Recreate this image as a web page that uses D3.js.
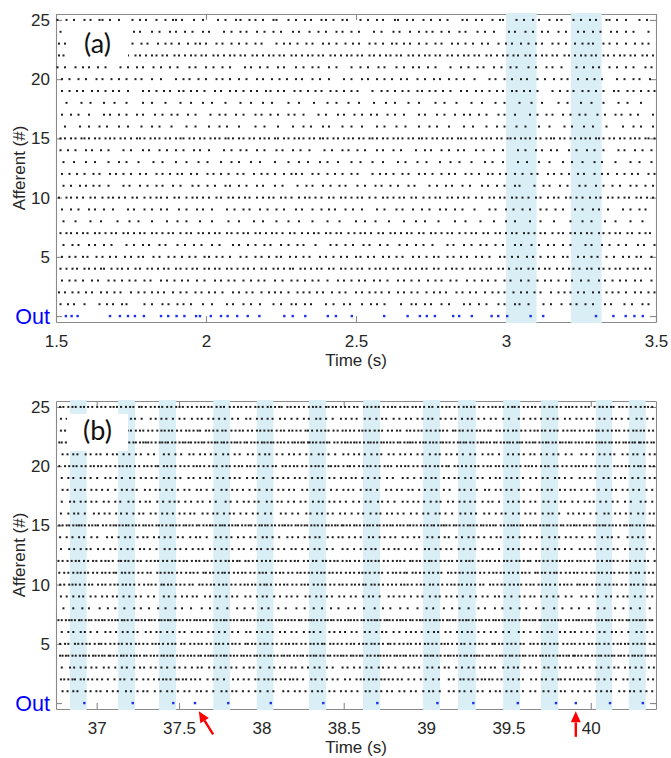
<!DOCTYPE html>
<html>
<head>
<meta charset="utf-8">
<script src="https://cdn.jsdelivr.net/npm/d3@7"></script>
<style>
  body { margin: 0; background: #fff; }
  svg { display: block; }
</style>
</head>
<body>
<div id="chart"></div>
<script>
// each afferent row is a string of gaps between spikes, one base-36 char per gap, in 5 ms steps
var step = 0.005;

var yTicks = [0, 5, 10, 15, 20, 25];
var yTickLabels = ['Out', '5', '10', '15', '20', '25'];

// ---- panel (a)
var xDomainA = [1.5, 3.5];
var xTicksA = [1.5, 2, 2.5, 3, 3.5];
var shadeA = [[3.0, 3.102], [3.217, 3.319]];
var outA = [1.533, 1.552, 1.572, 1.68, 1.713, 1.74, 1.763, 1.793, 1.85, 1.874, 1.902, 1.928, 1.967, 1.98,
  2.016, 2.05, 2.072, 2.104, 2.139, 2.178, 2.261, 2.289, 2.331, 2.406, 2.433, 2.486, 2.594, 2.672, 2.713,
  2.736, 2.763, 2.824, 2.844, 2.886, 2.952, 2.974, 3.004, 3.082, 3.124, 3.3, 3.358, 3.399, 3.428, 3.456];
var afferentA = [
  "3547a5463c57464586a4756957364a5748645b736475a46584736a576465849574636a574657485a6475",
  "2454546454754544654645457454654456445465474544564546544745465446545475445464544564547544654546",
  "4545647455464745546574546554756455467455464574556546475545647565455465745546475546556474556",
  "3443534425434535344353443534353443453534425344353534435434535344353543453443534535344354434535344354353445343534453543434",
  "4545364546453746455463545746455364547455463546454745536454645735464554637454656453746454655463745465546545",
  "5647465a5647485657594656475648a465747585656a475646584756465a47565847654756485746554",
  "3434435344353443534435435344353443534434535443534354434535344353534435443535344353443543534435344353543534435343",
  "58a7b869a7698b7a69879a8b679a869b7a986a79b8697a8b6979a86b7a87",
  "4657466a4756485746a5647565847654756a58476574658a47565746585746a564748575647564755",
  "2534453543445354434535434453534435443534543445353443545344353544353443545343534453543534454353443534435",
  "5564546a4756475846573657485a64756485746574a56475846573a64758475657465a56485746574555",
  "4555647455647455364745564754565347465564a54564745654745635465647455647546554745645",
  "57869758a6978697586a9768579687a5869768957a687967859a6879768597",
  "3557465a5847565746a5647584756a574658475a6475648576a5746485756a475648574654656475",
  "3343423434334344234334343243434334234343433424343343423434334342343433434234343342343433434234334343243434334234343433424334",
  "6a675869758a69758b69a7584967a5869758a69758697a5869b758697a58697a68597",
  "4657a46574856475a64758465746a5847564756a48576465847a5647564857465a475658465745",
  "7a6978b69a7869a786b7a9687a8697b68a796a87b6978a69b786a978869",
  "4554645546a455463545746455463547455464554a64554635455746455463545a55464557364554645565",
  "4565746556476a5465745657465564756a5746556475646557a46564756547655a564754656475656",
  "1575465a5647565847565a46574856475a6574856465a7564756485746a5647565847565a465746",
  "2334343534434353443435344343534434353443435344343534434353443435344343534434353443435344343534434353443435344343534435",
  "2445564745564754565347465564a54564745654745635465647455647546554745654374566547465",
  "3657a4656485746574a5647565847657465a58476546574856a475647584657465a7485647564855",
  "1657462569547652486a57364572856473563956482647565a364752956475385647256957463856475"
];

// ---- panel (b)
var xDomainB = [36.753, 40.396];
var xTicksB = [37, 37.5, 38, 38.5, 39, 39.5, 40];
var shadeB = [[36.838, 36.939], [37.130, 37.233], [37.378, 37.482], [37.708, 37.810], [37.972, 38.073],
  [38.289, 38.393], [38.617, 38.721], [38.982, 39.085], [39.194, 39.302], [39.468, 39.571],
  [39.698, 39.802], [40.031, 40.130], [40.231, 40.334]];
var outB = [36.925, 37.219, 37.465, 37.597, 37.799, 38.057, 38.376, 38.704, 39.069, 39.287, 39.557,
  39.789, 39.909, 40.117, 40.316];
var arrowsB = [{ from: [37.707, -2.65], to: [37.62, -0.7] }, { from: [39.909, -2.85], to: [39.909, -0.7] }];
var afferentB = [
  "8675a67587 6a68759786 7869578a67 5878697c68 6787596867 7a58676968 69758b6768 8697586779 6a68759786 8675a67587 7869578a67",
  "6455374556 6787596867 6545735465 69758b6768 4755465645 7a58676968 5465464556 5878697c68 4656545465 8675a67587 3565546564 7869578a67 5564456547",
  "7a58676968 8697586779 6787596867 69758b6768 5878697c68 7869578a67 6a68759786 8675a67587 7a58676968 8697586779 6787596867",
  "5343545434 5344352445 3454345354 4534435445 4453543345 4354453445 3455344534 3544354435 4535443453 4436454344 4534435445 5343545434 4453543345 3454345354 4354453445 5344352445 3544354435 3455344534 4436454344 4535443453",
  "5648455465 3565546564 5564456547 4755465645 6545735465 4656545465 6455374556 5465464556 3565546564 5564456547 6545735465 5648455465 4755465645 4656545465 5465464556 6455374556",
  "7869578a67 8675a67587 8697586779 7a58676968 69758b6768 6a68759786 6787596867 5878697c68 8675a67587 7869578a67 69758b6768",
  "3454345354 3544354435 3455344534 5344352445 4534435445 4354453445 4436454344 4453543345 5343545434 4535443453 3454345354 3455344534 3544354435 4534435445 5344352445 4436454344 4354453445 4535443453 4453543345 5343545434",
  "9cb8da9bc8 ab9c8bda9c c9ab8c9dab ab9c8bda9c 9cb8da9bc8 c9ab8c9dab 9cb8da9bc8 ab9c8bda9c",
  "6787596867 5878697c68 8675a67587 6a68759786 7a58676968 69758b6768 8697586779 7869578a67 5878697c68 6a68759786 8675a67587",
  "5564456547 5465464556 6545735465 5648455465 4656545465 3565546564 4755465645 6455374556 5564456547 4656545465 5648455465 5465464556 6545735465 4755465645 6455374556 3565546564",
  "4656545465 6455374556 5648455465 6545735465 3565546564 4755465645 5465464556 5564456547 6455374556 5648455465 4656545465 6545735465 3565546564 5465464556 4755465645 5564456547",
  "3565546564 6545735465 4755465645 5465464556 6455374556 5564456547 5648455465 4656545465 6545735465 3565546564 4755465645 6455374556 5465464556 5564456547 5648455465 4656545465",
  "6a68759786 7869578a67 6787596867 8697586779 5878697c68 8675a67587 7a58676968 69758b6768 7869578a67 6787596867 8697586779",
  "5878697c68 8697586779 69758b6768 7869578a67 8675a67587 7a58676968 6a68759786 6787596867 8697586779 69758b6768 8675a67587",
  "4453543345 4436454344 4354453445 3455344534 4535443453 3544354435 5343545434 4534435445 5344352445 3454345354 4354453445 4453543345 3455344534 4436454344 3544354435 4535443453 4534435445 5343545434 3454345354 5344352445",
  "69758b6768 6787596867 8675a67587 5878697c68 7a58676968 8697586779 7869578a67 6a68759786 69758b6768 7a58676968 5878697c68",
  "7a58676968 6a68759786 5878697c68 8675a67587 8697586779 7869578a67 6787596867 69758b6768 6a68759786 5878697c68 7a58676968",
  "8697586779 8675a67587 7869578a67 6787596867 6a68759786 69758b6768 5878697c68 7a58676968 8675a67587 8697586779 7869578a67",
  "7869578a67 7a58676968 6a68759786 69758b6768 6787596867 5878697c68 8675a67587 8697586779 7869578a67 6a68759786 6787596867",
  "4755465645 4656545465 6455374556 5564456547 5465464556 5648455465 6545735465 3565546564 4755465645 6455374556 5465464556 5564456547 4656545465 5648455465 3565546564 6545735465",
  "8675a67587 5878697c68 7a58676968 6a68759786 7869578a67 6787596867 8697586779 69758b6768 5878697c68 8675a67587 6a68759786",
  "4354453445 4535443453 4453543345 5343545434 3544354435 3454345354 4534435445 5344352445 4436454344 3455344534 4453543345 4354453445 5343545434 4535443453 3544354435 4534435445 3454345354 5344352445 3455344534",
  "6545735465 5648455465 4656545465 6455374556 4755465645 5465464556 3565546564 5564456547 5648455465 6545735465 6455374556 4656545465 4755465645 3565546564 5465464556 5564456547",
  "6787596867 69758b6768 8697586779 7a58676968 7869578a67 6a68759786 8675a67587 5878697c68 6787596867 7869578a67 7a58676968",
  "5465464556 5564456547 3565546564 4656545465 4755465645 6455374556 6545735465 5648455465 5465464556 4755465645 4656545465 3565546564 5564456547 6455374556 6545735465 5648455465"
];

function spikeTimes(str, t0) {
  var s = str.replace(/\s/g, ''), t = t0, out = [];
  for (var i = 0; i < s.length; i++) {
    t += parseInt(s[i], 36) * step;
    out.push(t);
  }
  return out;
}

var svg = d3.select('#chart').append('svg')
  .attr('width', 671)
  .attr('height', 758);

var left = 56, right = 656;
var textColor = '#262626';
var font = '"Liberation Sans", Arial, sans-serif';

function drawPanel(p) {
  var x = d3.scaleLinear().domain(p.xDomain).range([left, right]);
  var y = d3.scaleLinear().domain([-0.5, 25.5]).range([p.bottom, p.top]);
  var g = svg.append('g');

  // axes (box + inward ticks), drawn below the data like matlab
  var axB = g.append('g').attr('transform', 'translate(0,' + p.bottom + ')')
    .call(d3.axisBottom(x).tickValues(p.xTicks).tickSizeInner(-6).tickSizeOuter(0).tickPadding(13)
      .tickFormat(d3.format('')));
  var axT = g.append('g').attr('transform', 'translate(0,' + p.top + ')')
    .call(d3.axisTop(x).tickValues(p.xTicks).tickSizeInner(-6).tickSizeOuter(0).tickFormat(''));
  var axL = g.append('g').attr('transform', 'translate(' + left + ',0)')
    .call(d3.axisLeft(y).tickValues(yTicks).tickSizeInner(-6).tickSizeOuter(0).tickPadding(6)
      .tickFormat(function(d, i) { return yTickLabels[i]; }));
  var axR = g.append('g').attr('transform', 'translate(' + right + ',0)')
    .call(d3.axisRight(y).tickValues(yTicks).tickSizeInner(-6).tickSizeOuter(0).tickFormat(''));

  [axB, axT, axL, axR].forEach(function(a) {
    a.selectAll('path, line').attr('stroke', '#8a8a8a').attr('stroke-width', 1.1);
    a.selectAll('text').attr('fill', textColor).style('font-family', font).style('font-size', '17px');
  });
  axL.selectAll('text').filter(function(d) { return d === 0; })
    .attr('fill', '#0000ff').style('font-size', '21.5px').attr('dy', '0.36em');

  // shaded windows
  g.append('g').selectAll('rect').data(p.shades).join('rect')
    .attr('x', function(d) { return x(d[0]); })
    .attr('y', p.top - 1)
    .attr('width', function(d) { return x(d[1]) - x(d[0]); })
    .attr('height', p.bottom - p.top + 2)
    .attr('fill', '#daeef6');

  // afferent spikes
  var pts = [];
  p.rows.forEach(function(str, i) {
    spikeTimes(str, p.xDomain[0]).forEach(function(t) {
      if (t < p.xDomain[1] - 0.004) pts.push({ t: t, r: i + 1 });
    });
  });
  g.append('g').selectAll('rect').data(pts).join('rect')
    .attr('x', function(d) { return x(d.t) - 1; })
    .attr('y', function(d) { return y(d.r) - 1; })
    .attr('width', 2).attr('height', 2)
    .attr('fill', '#1e1e1e');

  // output spikes
  g.append('g').selectAll('rect').data(p.out).join('rect')
    .attr('x', function(d) { return x(d) - 1.2; })
    .attr('y', y(0) - 1.2)
    .attr('width', 2.4).attr('height', 2.4)
    .attr('fill', '#1f2ff0');

  // panel letter on a white box
  g.append('rect').attr('x', 67).attr('y', p.top + 13).attr('width', 61).attr('height', 37).attr('fill', '#fff');
  g.append('text').attr('x', 97.5).attr('y', p.top + 38.5)
    .attr('text-anchor', 'middle')
    .style('font-family', 'Lato, "Open Sans", sans-serif').style('font-size', '27px')
    .attr('fill', '#111').text(p.letter);

  g.append('text')
    .attr('transform', 'translate(25,' + ((p.top + p.bottom) / 2) + ') rotate(-90)')
    .attr('text-anchor', 'middle')
    .style('font-family', font).style('font-size', '17px')
    .attr('fill', textColor).text('Afferent (#)');

  g.append('text')
    .attr('x', (left + right) / 2).attr('y', p.bottom + 44)
    .attr('text-anchor', 'middle')
    .style('font-family', font).style('font-size', '17px')
    .attr('fill', textColor).text('Time (s)');

  // red arrows pointing at the missed output spikes
  (p.arrows || []).forEach(function(a) {
    var sx = x(a.from[0]), sy = y(a.from[1]), tx = x(a.to[0]), ty = y(a.to[1]);
    var len = Math.hypot(tx - sx, ty - sy), ux = (tx - sx) / len, uy = (ty - sy) / len;
    var bx = tx - ux * 11, by = ty - uy * 11;
    g.append('line').attr('x1', sx).attr('y1', sy).attr('x2', bx).attr('y2', by)
      .attr('stroke', '#ff0000').attr('stroke-width', 2.4);
    g.append('path')
      .attr('d', 'M' + tx + ',' + ty + 'L' + (bx - uy * 5) + ',' + (by + ux * 5) + 'L' + (bx + uy * 5) + ',' + (by - ux * 5) + 'Z')
      .attr('fill', '#ff0000');
  });
}

drawPanel({ xDomain: xDomainA, xTicks: xTicksA, shades: shadeA, out: outA, rows: afferentA,
  top: 14, bottom: 322, letter: '(a)' });
drawPanel({ xDomain: xDomainB, xTicks: xTicksB, shades: shadeB, out: outB, rows: afferentB,
  top: 401, bottom: 709, letter: '(b)', arrows: arrowsB });
</script>
</body>
</html>
